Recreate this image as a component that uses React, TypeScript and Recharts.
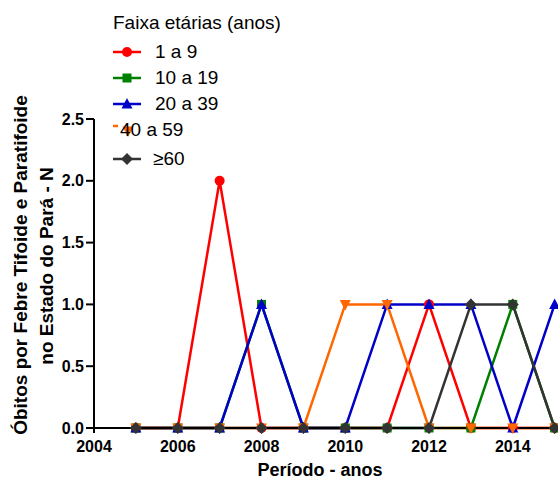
import React from "react";
import { LineChart, Line, XAxis, YAxis, Label } from "recharts";

const years = [2005, 2006, 2007, 2008, 2009, 2010, 2011, 2012, 2013, 2014, 2015];
const s1a9 = [0, 0, 2, 0, 0, 0, 0, 1, 0, 0, 0];
const s10a19 = [0, 0, 0, 1, 0, 0, 0, 0, 0, 1, 0];
const s20a39 = [0, 0, 0, 1, 0, 0, 1, 1, 1, 0, 1];
const s40a59 = [0, 0, 0, 0, 0, 1, 1, 0, 0, 0, 0];
const s60 = [0, 0, 0, 0, 0, 0, 0, 0, 1, 1, 0];
const xTicks = [2004, 2006, 2008, 2010, 2012, 2014];
const yTicks = [0, 0.5, 1.0, 1.5, 2.0, 2.5];

const seriesNames = ["1 a 9", "10 a 19", "20 a 39", "40 a 59", "\u226560"];
const colors = ["#FF0000", "#008000", "#0000C8", "#FF6600", "#333333"];
const shapes = ["circle", "square", "triangle", "invtriangle", "diamond"];

const data = years.map((y, i) => ({
  year: y,
  a: s1a9[i],
  b: s10a19[i],
  c: s20a39[i],
  d: s40a59[i],
  e: s60[i],
}));

const FONT = "'Liberation Sans', Arial, Helvetica, sans-serif";

function Marker({ shape, cx, cy, color }: { shape: string; cx: number; cy: number; color: string }) {
  if (shape === "circle") return <circle cx={cx} cy={cy} r={5} fill={color} />;
  if (shape === "square") return <rect x={cx - 4.5} y={cy - 4.5} width={9} height={9} fill={color} />;
  if (shape === "triangle")
    return <polygon points={`${cx},${cy - 6} ${cx + 5.5},${cy + 4.5} ${cx - 5.5},${cy + 4.5}`} fill={color} />;
  if (shape === "invtriangle")
    return <polygon points={`${cx},${cy + 6} ${cx + 5.5},${cy - 4.5} ${cx - 5.5},${cy - 4.5}`} fill={color} />;
  return <polygon points={`${cx},${cy - 6} ${cx + 6},${cy} ${cx},${cy + 6} ${cx - 6},${cy}`} fill={color} />;
}

const makeDot = (idx: number) => (props: any) => {
  const { cx, cy, index } = props;
  if (cx == null || cy == null) return <g key={`d${idx}-${index}`} />;
  return (
    <g key={`d${idx}-${index}`}>
      <Marker shape={shapes[idx]} cx={cx} cy={cy} color={colors[idx]} />
    </g>
  );
};

const rowY = [52, 78, 104, 130, 159];

function LegendContent() {
  return (
    <div style={{ position: "absolute", left: 0, top: 0, width: 558, height: 180, fontFamily: FONT, fontSize: 19, color: "#000", pointerEvents: "none" }}>
      <span style={{ position: "absolute", left: 113, top: 23 - 11, lineHeight: "22px", whiteSpace: "nowrap" }}>
        Faixa etárias (anos)
      </span>
      {seriesNames.map((name, i) => {
        const cy = rowY[i];
        if (i === 3) {
          return (
            <React.Fragment key={name}>
              <svg style={{ position: "absolute", left: 110, top: cy - 12 }} width={30} height={24}>
                <line x1={3} y1={8} x2={8} y2={8} stroke={colors[i]} strokeWidth={2.5} />
                <Marker shape={shapes[i]} cx={18} cy={13} color={colors[i]} />
              </svg>
              <span style={{ position: "absolute", left: 120, top: cy - 11, lineHeight: "22px", whiteSpace: "nowrap" }}>
                {name}
              </span>
            </React.Fragment>
          );
        }
        return (
          <React.Fragment key={name}>
            <svg style={{ position: "absolute", left: 110, top: cy - 12 }} width={34} height={24}>
              <line x1={3} y1={12} x2={31} y2={12} stroke={colors[i]} strokeWidth={2.5} />
              <Marker shape={shapes[i]} cx={17} cy={12} color={colors[i]} />
            </svg>
            <span style={{ position: "absolute", left: i === 4 ? 153 : 155, top: cy - 11, lineHeight: "22px", whiteSpace: "nowrap" }}>
              {name}
            </span>
          </React.Fragment>
        );
      })}
    </div>
  );
}

const YLabel = () => (
  <g>
    <text
      transform="translate(27, 265) rotate(-90)"
      textAnchor="middle"
      fontFamily={FONT}
      fontSize={19}
      fontWeight="bold"
      fill="#000"
    >
      Óbitos por Febre Tifoide e Paratifoide
    </text>
    <text
      transform="translate(53, 266) rotate(-90)"
      textAnchor="middle"
      fontFamily={FONT}
      fontSize={19}
      fontWeight="bold"
      fill="#000"
    >
      no Estado do Pará - N
    </text>
  </g>
);

const XLabel = () => (
  <text x={320} y={476} textAnchor="middle" fontFamily={FONT} fontSize={18} fontWeight="bold" fill="#000">
    Período - anos
  </text>
);

const keys = ["a", "b", "c", "d", "e"];

export default function App() {
  return (
    <div style={{ position: "absolute", left: 0, top: 0, width: 558, height: 479 }}>
      <LineChart width={558} height={479} data={data} margin={{ top: 119, right: 0, left: 0, bottom: 0 }}>
        <XAxis
          dataKey="year"
          type="number"
          domain={[2004, 2015.08]}
          allowDataOverflow
          ticks={xTicks}
          height={51}
          tickSize={5}
          tickMargin={8}
          axisLine={{ stroke: "#000", strokeWidth: 2 }}
          tickLine={{ stroke: "#000", strokeWidth: 2 }}
          tick={{ fill: "#000", fontSize: 16, fontWeight: "bold", fontFamily: FONT }}
          interval={0}
        >
          <Label content={<XLabel />} />
        </XAxis>
        <YAxis
          type="number"
          domain={[0, 2.5]}
          ticks={yTicks}
          width={94}
          tickSize={8}
          tickMargin={2}
          axisLine={{ stroke: "#000", strokeWidth: 2 }}
          tickLine={{ stroke: "#000", strokeWidth: 2 }}
          tick={{ fill: "#000", fontSize: 16, fontWeight: "bold", fontFamily: FONT }}
          tickFormatter={(v: number) => v.toFixed(1)}
          interval={0}
        >
          <Label content={<YLabel />} />
        </YAxis>
        {keys.map((k, i) => (
          <Line
            key={k}
            dataKey={k}
            name={seriesNames[i]}
            stroke={colors[i]}
            strokeWidth={2.5}
            dot={makeDot(i)}
            activeDot={false}
            isAnimationActive={false}
          />
        ))}
      </LineChart>
      <LegendContent />
    </div>
  );
}
